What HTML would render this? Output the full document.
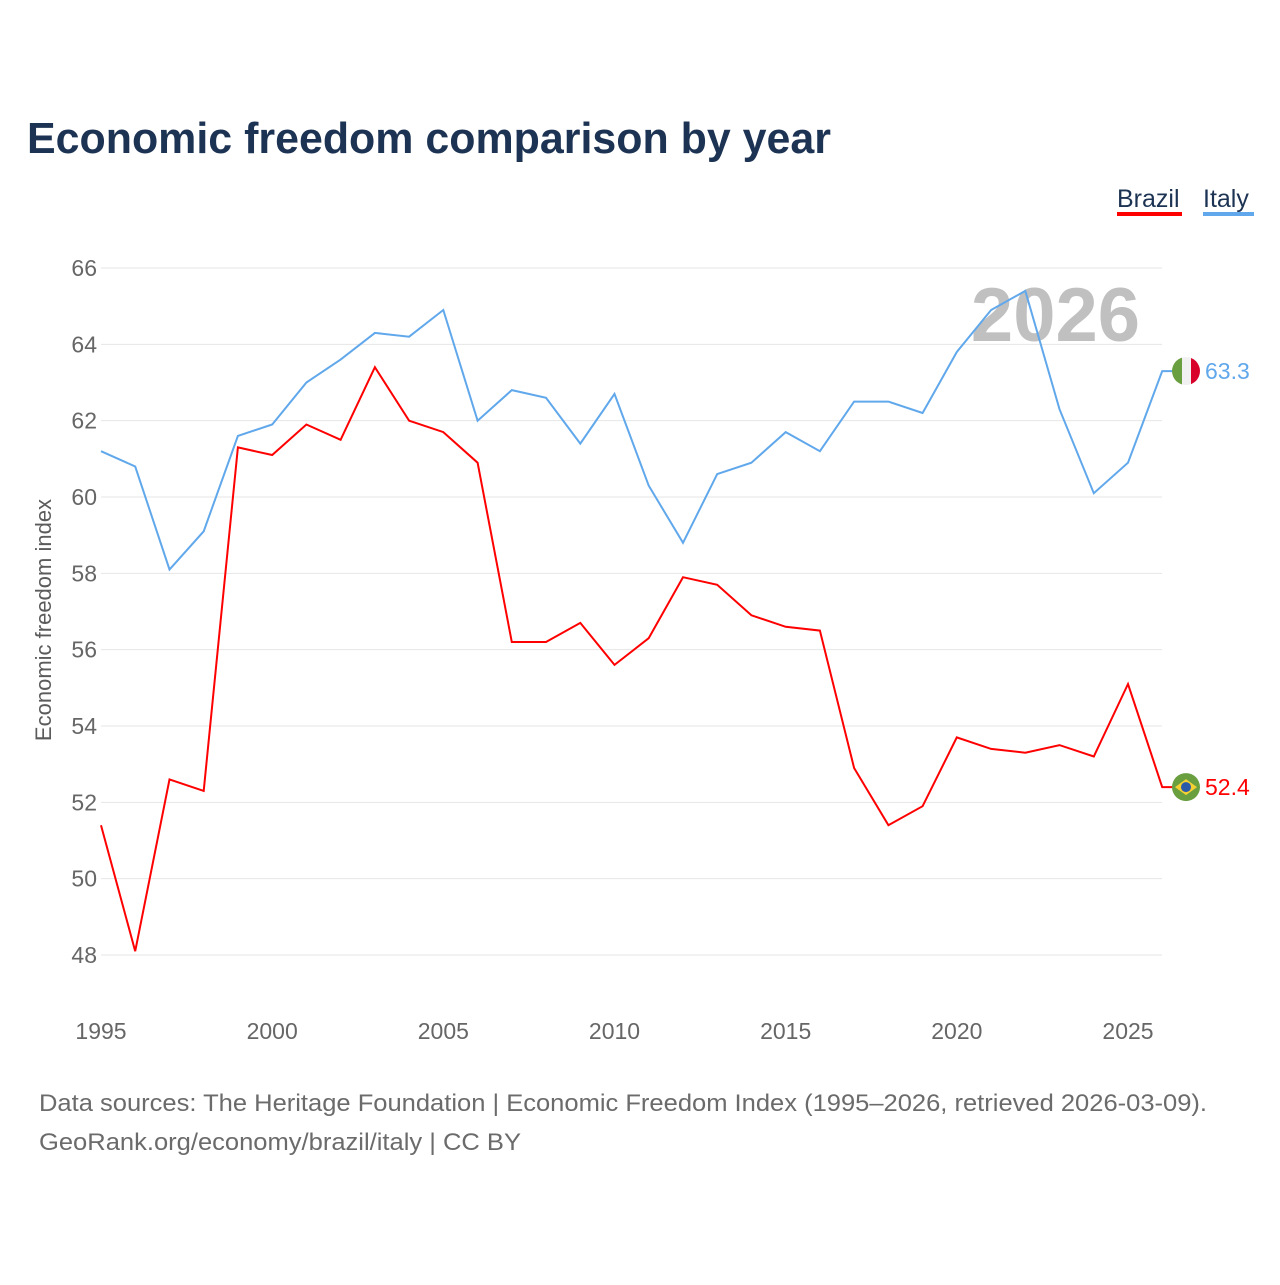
<!DOCTYPE html>
<html><head><meta charset="utf-8"><style>
html,body{margin:0;padding:0;background:#fff;}
body{width:1280px;height:1280px;overflow:hidden;font-family:"Liberation Sans",sans-serif;}
</style></head><body>
<svg id="chart" width="1280" height="1280" xmlns="http://www.w3.org/2000/svg" font-family="Liberation Sans, sans-serif">
<text x="27" y="153" font-size="44" font-weight="bold" fill="#1d3353" textLength="804" lengthAdjust="spacingAndGlyphs">Economic freedom comparison by year</text>
<g>
 <g><text x="1117" y="207" font-size="25" fill="#1d3353">Brazil</text><rect x="1117" y="212" width="65" height="4" fill="#ff0000"/></g>
 <g><text x="1203" y="207" font-size="25" fill="#1d3353">Italy</text><rect x="1203" y="212" width="51" height="4" fill="#60a8eb"/></g>
</g>
<g id="grid"></g>
<text x="1140" y="341" text-anchor="end" font-size="76" font-weight="bold" fill="#c0c0c0">2026</text>
<text transform="translate(51,620) rotate(-90)" text-anchor="middle" font-size="22" fill="#5b5b5b">Economic freedom index</text>
<g id="xticks"></g>
<g id="series"></g>
<text x="39" y="1111" font-size="24" fill="#6b6b6b" textLength="1168" lengthAdjust="spacingAndGlyphs">Data sources: The Heritage Foundation | Economic Freedom Index (1995–2026, retrieved 2026-03-09).</text>
<text x="39" y="1150" font-size="24" fill="#6b6b6b" textLength="482" lengthAdjust="spacingAndGlyphs">GeoRank.org/economy/brazil/italy | CC BY</text>
</svg>
<script>
const years=[1995,1996,1997,1998,1999,2000,2001,2002,2003,2004,2005,2006,2007,2008,2009,2010,2011,2012,2013,2014,2015,2016,2017,2018,2019,2020,2021,2022,2023,2024,2025,2026];
const italy=[61.2,60.8,58.1,59.1,61.6,61.9,63.0,63.6,64.3,64.2,64.9,62.0,62.8,62.6,61.4,62.7,60.3,58.8,60.6,60.9,61.7,61.2,62.5,62.5,62.2,63.8,64.9,65.4,62.3,60.1,60.9,63.3];
const brazil=[51.4,48.1,52.6,52.3,61.3,61.1,61.9,61.5,63.4,62.0,61.7,60.9,56.2,56.2,56.7,55.6,56.3,57.9,57.7,56.9,56.6,56.5,52.9,51.4,51.9,53.7,53.4,53.3,53.5,53.2,55.1,52.4];
const yTicks=[48,50,52,54,56,58,60,62,64,66];
const xTicks=[1995,2000,2005,2010,2015,2020,2025];
const NS="http://www.w3.org/2000/svg";
const X=y=>101+(y-1995)*(1128-101)/30;
const Y=v=>955-(v-48)*(955-268)/18;
function mk(t,a,p){const e=document.createElementNS(NS,t);for(const k in a)e.setAttribute(k,a[k]);p.appendChild(e);return e;}
const grid=document.getElementById('grid');
yTicks.forEach(v=>{
 const l=mk('line',{x1:101,x2:1162,y1:Y(v),y2:Y(v),stroke:'#e6e6e6','stroke-width':1},grid);
 
 
 const t=mk('text',{x:97,y:Y(v)+8,'text-anchor':'end','font-size':23,fill:'#666'},grid);
 t.textContent=v;
 
 
});
const xt=document.getElementById('xticks');
xTicks.forEach(v=>{
 const t=mk('text',{x:X(v),y:1039,'text-anchor':'middle','font-size':23,fill:'#666'},xt);
 t.textContent=v;
 
 
});
const s=document.getElementById('series');
function line(vals,color,name){
 const d=vals.map((v,i)=>(i?'L':'M')+X(years[i]).toFixed(1)+','+Y(v).toFixed(1)).join('')+'h12';
 const p=mk('path',{d:d,fill:'none',stroke:color,'stroke-width':2},s);
 
 
}
line(italy,'#60a8eb','italy');
line(brazil,'#ff0000','brazil');
const li=italy[italy.length-1], lb=brazil[brazil.length-1];
const cx=1186;
let g=mk('g',{},s);


const cp=mk('clipPath',{id:'ci'},g);
mk('circle',{cx:cx,cy:Y(li),r:14},cp);
const gi=mk('g',{'clip-path':'url(#ci)'},g);
mk('rect',{x:cx-14,y:Y(li)-14,width:10,height:28,fill:'#6a9f40'},gi);
mk('rect',{x:cx-4,y:Y(li)-14,width:9,height:28,fill:'#f1f1f1'},gi);
mk('rect',{x:cx+5,y:Y(li)-14,width:10,height:28,fill:'#d8002a'},gi);
let t=mk('text',{x:1205,y:Y(li)+8,'font-size':23,fill:'#60a8eb'},s);
t.textContent=li.toFixed(1);


g=mk('g',{},s);


mk('circle',{cx:cx,cy:Y(lb),r:14,fill:'#6a9f40'},g);
mk('polygon',{points:`${cx-11},${Y(lb)} ${cx},${Y(lb)-8} ${cx+11},${Y(lb)} ${cx},${Y(lb)+8}`,fill:'#f5d033'},g);
mk('circle',{cx:cx,cy:Y(lb),r:5,fill:'#2a5aa8'},g);
t=mk('text',{x:1205,y:Y(lb)+8,'font-size':23,fill:'#ff0000'},s);
t.textContent=lb.toFixed(1);


</script>
</body></html>
